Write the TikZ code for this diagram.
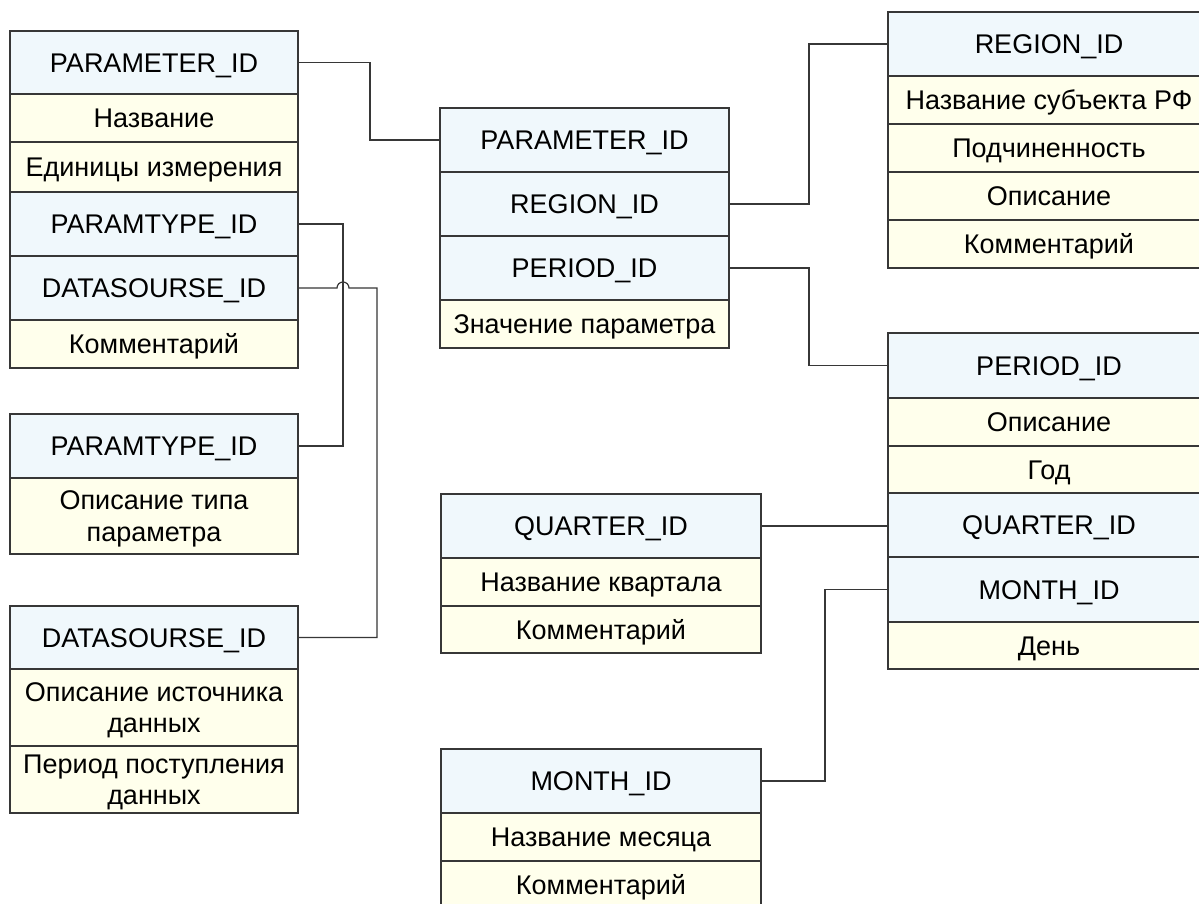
\documentclass[tikz,border=0pt]{standalone}
\usepackage{fontspec}
\setmainfont{Liberation Sans}
\usetikzlibrary{calc}
\definecolor{keyfill}{RGB}{240,248,252}
\definecolor{attrfill}{RGB}{255,255,236}
\definecolor{edge}{RGB}{55,55,55}
\tikzset{
  cell/.style={draw=edge, line width=1.2pt, rectangle, inner sep=0pt, outer sep=0pt,
    align=center, font=\fontsize{27}{31.5}\selectfont, text=black,
    text height=19.4pt, text depth=0pt},
  keyrow/.style={cell, fill=keyfill},
  attrrow/.style={cell, fill=attrfill},
  attrrow2/.style={attrrow, text height=50.9pt},
  link/.style={draw=edge, line width=1.2pt}
}
% \field{name}{style}{x1}{x2}{y1}{y2}{text}
\newcommand{\field}[7]{%
  \pgfmathsetmacro{\fw}{#4-#3}\pgfmathsetmacro{\fh}{#6-#5}%
  \pgfmathsetmacro{\fx}{(#3+#4)/2}\pgfmathsetmacro{\fy}{(#5+#6)/2}%
  \node[#2, minimum width=\fw pt, minimum height=\fh pt] (#1) at (\fx,\fy) {#7};}
\begin{document}
\begin{tikzpicture}[x=1pt, y=-1pt]
\clip (0,0) rectangle (1199,904);
\fill[white] (0,0) rectangle (1199,904);

% parameters
\field{a1}{keyrow}{10}{298}{31}{94}{PARAMETER\_ID}
\field{a2}{attrrow}{10}{298}{94}{142}{Название}
\field{a3}{attrrow}{10}{298}{142}{192}{Единицы измерения}
\field{a4}{keyrow}{10}{298}{192}{256}{PARAMTYPE\_ID}
\field{a5}{keyrow}{10}{298}{256}{320}{DATASOURSE\_ID}
\field{a6}{attrrow}{10}{298}{320}{368}{Комментарий}

% parameter types
\field{b1}{keyrow}{10}{298}{414}{478}{PARAMTYPE\_ID}
\field{b2}{attrrow2}{10}{298}{478}{554}{Описание типа\\параметра}

% data sources
\field{c1}{keyrow}{10}{298}{606}{669}{DATASOURSE\_ID}
\field{c2}{attrrow2}{10}{298}{669}{746}{Описание источника\\данных}
\field{c3}{attrrow2}{10}{298}{746}{813}{Период поступления\\данных}

% facts
\field{d1}{keyrow}{440}{729}{108}{172}{PARAMETER\_ID}
\field{d2}{keyrow}{440}{729}{172}{236}{REGION\_ID}
\field{d3}{keyrow}{440}{729}{236}{300}{PERIOD\_ID}
\field{d4}{attrrow}{440}{729}{300}{348}{Значение параметра}

% regions
\field{e1}{keyrow}{888}{1210}{12}{76}{REGION\_ID}
\field{e2}{attrrow}{888}{1210}{76}{124}{Название субъекта РФ}
\field{e3}{attrrow}{888}{1210}{124}{172}{Подчиненность}
\field{e4}{attrrow}{888}{1210}{172}{220}{Описание}
\field{e5}{attrrow}{888}{1210}{220}{268}{Комментарий}

% periods
\field{f1}{keyrow}{888}{1210}{333}{398}{PERIOD\_ID}
\field{f2}{attrrow}{888}{1210}{398}{446}{Описание}
\field{f3}{attrrow}{888}{1210}{446}{493}{Год}
\field{f4}{keyrow}{888}{1210}{493}{557}{QUARTER\_ID}
\field{f5}{keyrow}{888}{1210}{557}{622}{MONTH\_ID}
\field{f6}{attrrow}{888}{1210}{622}{669}{День}

% quarters
\field{g1}{keyrow}{441}{761}{494}{558}{QUARTER\_ID}
\field{g2}{attrrow}{441}{761}{558}{606}{Название квартала}
\field{g3}{attrrow}{441}{761}{606}{653}{Комментарий}

% months
\field{h1}{keyrow}{441}{761}{749}{813}{MONTH\_ID}
\field{h2}{attrrow}{441}{761}{813}{861}{Название месяца}
\field{h3}{attrrow}{441}{761}{861}{909}{Комментарий}

% vertical runs of the links
\coordinate (v1) at (370,0);
\coordinate (v2) at (343,0);
\coordinate (v3) at (377,0);
\coordinate (v4) at (809,0);
\coordinate (v5) at (825,0);

% links
\draw[link] (a1.east) -- (a1.east -| v1) |- (d1.west);
\draw[link] (a4.east) -- (a4.east -| v2) |- (b1.east);
\draw[link] (a5.east) -- ($(a5.east -| v2)+(-6,0)$)
  arc[start angle=180, end angle=360, radius=6]
  -- (a5.east -| v3) |- (c1.east);
\draw[link] (d2.east) -- (d2.east -| v4) |- (e1.west);
\draw[link] (d3.east) -- (d3.east -| v4) |- (f1.west);
\draw[link] (g1.east) -- (g1.east -| f4.west);
\draw[link] (h1.east) -- (h1.east -| v5) |- (f5.west);
\end{tikzpicture}
\end{document}
